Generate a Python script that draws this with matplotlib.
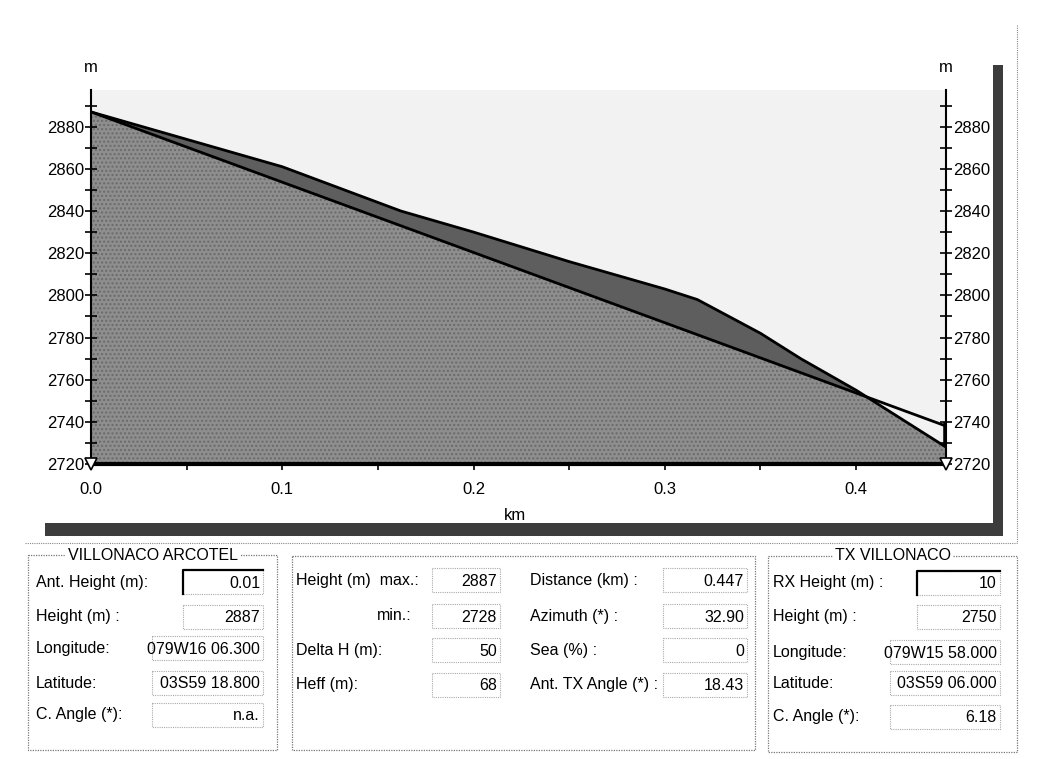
import matplotlib
matplotlib.use("Agg")
import numpy as np
import matplotlib.pyplot as plt
import matplotlib.patches as patches
from matplotlib.ticker import MultipleLocator, FormatStrFormatter

plt.rcParams['font.family'] = ['Liberation Sans', 'DejaVu Sans']

# terrain profile
dist_km = [0.0, 0.05, 0.1, 0.162, 0.2, 0.25, 0.3, 0.317, 0.35, 0.371, 0.4, 0.447]
elev_m = [2887, 2874, 2861, 2840, 2830, 2816, 2803, 2798, 2782, 2770, 2755, 2728]

# line of sight between the two antennas
los_km = [0.0, 0.447]
los_m = [2887.01, 2738]

x_ticks = [0.0, 0.1, 0.2, 0.3, 0.4]
y_min, y_max = 2720, 2897.4

# bottom panels
left_title = "VILLONACO ARCOTEL"
left_labels = ["Ant. Height (m):", "Height (m) :", "Longitude:", "Latitude:", "C. Angle (*):"]
left_values = ["0.01", "2887", "079W16 06.300", "03S59 18.800", "n.a."]

mid_labels_a = ["Height (m)  max.:", "min.:", "Delta H (m):", "Heff (m):"]
mid_values_a = ["2887", "2728", "50", "68"]
mid_labels_b = ["Distance (km) :", "Azimuth (*) :", "Sea (%) :", "Ant. TX Angle (*) :"]
mid_values_b = ["0.447", "32.90", "0", "18.43"]

right_title = "TX VILLONACO"
right_labels = ["RX Height (m) :", "Height (m) :", "Longitude:", "Latitude:", "C. Angle (*):"]
right_values = ["10", "2750", "079W15 58.000", "03S59 06.000", "6.18"]

W, H = 1062, 759
fig = plt.figure(figsize=(W / 100, H / 100), dpi=100)
fig.patch.set_facecolor('white')

# overlay in pixel coordinates for the window decorations and panels
ov = fig.add_axes([0, 0, 1, 1])
ov.set_xlim(0, W)
ov.set_ylim(H, 0)
ov.axis('off')

# main profile axes
px_l, px_r, px_t, px_b = 91, 946, 90, 464
ax = fig.add_axes([px_l / W, 1 - px_b / H, (px_r - px_l) / W, (px_b - px_t) / H])
ax.set_facecolor('#f2f2f2')

x = np.array(dist_km)
y = np.array(elev_m)
ax.fill_between(x, y_min, y, color='#8e8e8e', hatch='....', edgecolor='#6a6a6a', linewidth=0)
los_i = np.interp(x, los_km, los_m)
ax.fill_between(x, los_i, y, where=y >= los_i, interpolate=True,
                color='#5e5e5e', linewidth=0)
ax.plot(x, y, color='black', lw=2)
ax.plot(los_km, los_m, color='black', lw=2)
ax.plot([0.447, 0.447], [2728, 2740], color='black', lw=4, solid_capstyle='butt')
ax.plot([0.0, 0.447], [2720, 2720], linestyle='none', marker='v', ms=8,
        mfc='white', mec='black', mew=1.2, clip_on=False, zorder=5)

ax.set_xlim(0, 0.447)
ax.set_ylim(y_min, y_max)
ax.set_xticks(x_ticks)
ax.xaxis.set_minor_locator(MultipleLocator(0.05))
ax.xaxis.set_major_formatter(FormatStrFormatter('%.1f'))
ax.yaxis.set_major_locator(MultipleLocator(20))
ax.yaxis.set_minor_locator(MultipleLocator(10))
ax.tick_params(axis='y', which='both', left=True, right=True, labelleft=True,
               labelright=True, direction='inout', length=8, width=1.2, pad=1,
               labelsize=12)
ax.tick_params(axis='x', which='both', direction='out', length=4, width=1.2,
               pad=9, labelsize=12)
for s in ['left', 'right']:
    ax.spines[s].set_linewidth(1.5)
ax.spines['bottom'].set_linewidth(3)
ax.spines['top'].set_visible(False)

# axis unit labels
ov.text(px_l, 68, "m", ha='center', va='center', fontsize=12)
ov.text(px_r, 68, "m", ha='center', va='center', fontsize=12)
ov.text(515, 516, "km", ha='center', va='center', fontsize=12)

# window frame
ov.add_patch(patches.Rectangle((45, 523), 958, 13, facecolor='#3c3c3c', edgecolor='none'))
ov.add_patch(patches.Rectangle((993, 65), 10, 471, facecolor='#3c3c3c', edgecolor='none'))
ov.plot([25, 1017], [543, 543], color='#888888', lw=0.8, ls=(0, (1, 1)))
ov.plot([1017, 1017], [25, 543], color='#888888', lw=0.8, ls=(0, (1, 1)))


def panel(x0, y0, x1, y1, title=None, tx=None):
    ov.add_patch(patches.Rectangle((x0, y0), x1 - x0, y1 - y0, fill=False,
                                   edgecolor='#777777', lw=0.9, ls=(0, (1, 1))))
    if title:
        ov.text(tx, y0, title, ha='center', va='center', fontsize=11.5,
                bbox=dict(facecolor='white', edgecolor='none', pad=1.5))


def value_box(x0, x1, yc, text, sunken=False):
    y0, y1 = yc - 12, yc + 12
    box = patches.Rectangle((x0, y0), x1 - x0, y1 - y0, fill=False,
                            edgecolor='#aaaaaa', lw=0.8, ls=(0, (1, 1)))
    ov.add_patch(box)
    if sunken:
        ov.plot([x0, x0, x1], [y1, y0, y0], color='black', lw=1.6)
    t = ov.text(x1 - 3, yc + 1, text, ha='right', va='center', fontsize=11.5)
    t.set_clip_path(box)


# left panel
panel(28, 555, 277, 750, left_title, 153)
rows_l = [582, 617, 648, 683, 715]
box_l = [183, 183, 152, 152, 152]
for i, (lab, val) in enumerate(zip(left_labels, left_values)):
    ov.text(36, rows_l[i], lab, ha='left', va='center', fontsize=11.5)
    value_box(box_l[i], 263, rows_l[i], val, sunken=(i == 0))

# middle panel
panel(292, 556, 755, 750)
rows_m = [580, 616, 650, 685]
for i, (lab, val) in enumerate(zip(mid_labels_a, mid_values_a)):
    if lab == "min.:":
        ov.text(412, rows_m[i], lab, ha='right', va='center', fontsize=11.5)
    else:
        ov.text(296, rows_m[i], lab, ha='left', va='center', fontsize=11.5)
    value_box(432, 500, rows_m[i], val)
for i, (lab, val) in enumerate(zip(mid_labels_b, mid_values_b)):
    ov.text(530, rows_m[i], lab, ha='left', va='center', fontsize=11.5)
    value_box(663, 747, rows_m[i], val)

# right panel
panel(768, 556, 1017, 752, right_title, 893)
rows_r = [583, 617, 652, 683, 717]
box_r = [917, 917, 890, 890, 890]
for i, (lab, val) in enumerate(zip(right_labels, right_values)):
    ov.text(773, rows_r[i], lab, ha='left', va='center', fontsize=11.5)
    value_box(box_r[i], 1000, rows_r[i], val, sunken=(i == 0))

fig.savefig("out.png", dpi=100)
